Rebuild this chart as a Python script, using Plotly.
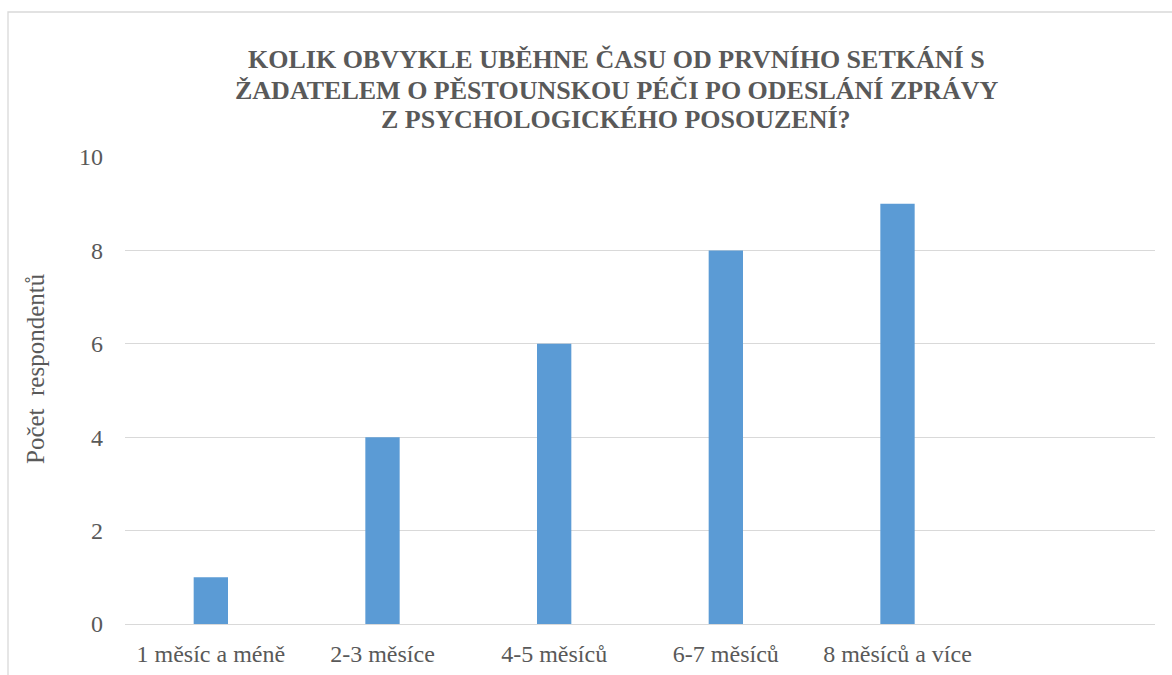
import plotly.graph_objects as go

# Survey results: time elapsed between first meeting and the report
categories = ["1 měsíc a méně", "2-3 měsíce", "4-5 měsíců", "6-7 měsíců", "8 měsíců a více"]
counts = [1, 4, 6, 8, 9]
y_ticks = [0, 2, 4, 6, 8, 10]

title_lines = [
    "KOLIK OBVYKLE UBĚHNE ČASU OD PRVNÍHO SETKÁNÍ S",
    "ŽADATELEM O PĚSTOUNSKOU PÉČI PO ODESLÁNÍ ZPRÁVY",
    "Z PSYCHOLOGICKÉHO POSOUZENÍ?",
]
y_title = "Počet  respondentů"

W, H = 1172, 675
L, R, T, B = 125, 17, 157, 51
pw, ph = W - L - R, H - T - B

def px_x(px):
    return (px - L) / pw

def px_y(py):
    return (H - B - py) / ph

text_color = "#595959"
grid_color = "#D9D9D9"
bar_color = "#5B9BD5"
serif = "Liberation Serif"

fig = go.Figure(
    go.Bar(x=categories, y=counts, marker=dict(color=bar_color, line=dict(width=0)))
)

fig.update_layout(
    width=W,
    height=H,
    margin=dict(l=L, r=R, t=T, b=B, autoexpand=False),
    paper_bgcolor="white",
    plot_bgcolor="white",
    bargap=0.8,
    showlegend=False,
    font=dict(family=serif, color=text_color),
)

# Title lines, set individually for tight line spacing
for line, cy in zip(title_lines, [59.5, 90, 119.5]):
    fig.add_annotation(
        text=f"<b>{line}</b>",
        xref="paper",
        yref="paper",
        x=px_x(616),
        y=px_y(cy),
        showarrow=False,
        xanchor="center",
        yanchor="middle",
        font=dict(family=serif, size=26, color=text_color),
    )

fig.update_xaxes(
    range=[-0.5, 5.5],
    automargin=False,
    showgrid=False,
    showline=True,
    linecolor=grid_color,
    linewidth=1.3,
    ticks="",
    tickfont=dict(family=serif, size=24, color=text_color),
    ticklabelstandoff=8,
)

fig.update_yaxes(
    range=[0, 10],
    automargin=False,
    tickvals=y_ticks,
    showgrid=True,
    gridcolor=grid_color,
    gridwidth=1.3,
    zeroline=False,
    showline=False,
    ticks="",
    tickfont=dict(family=serif, size=24, color=text_color),
    ticklabelstandoff=21,
)

# Rotated y-axis title
fig.add_annotation(
    text=y_title,
    xref="paper",
    yref="paper",
    x=px_x(35),
    y=px_y(369),
    textangle=-90,
    showarrow=False,
    font=dict(family=serif, size=25, color=text_color),
    xanchor="center",
    yanchor="middle",
)

# Chart frame (left and top edges visible)
fig.add_shape(
    type="rect",
    xref="paper",
    yref="paper",
    x0=px_x(8),
    x1=px_x(1190),
    y0=px_y(700),
    y1=px_y(12),
    line=dict(color=grid_color, width=1.3),
    fillcolor="rgba(0,0,0,0)",
    layer="below",
)

fig.write_html("out.html")
